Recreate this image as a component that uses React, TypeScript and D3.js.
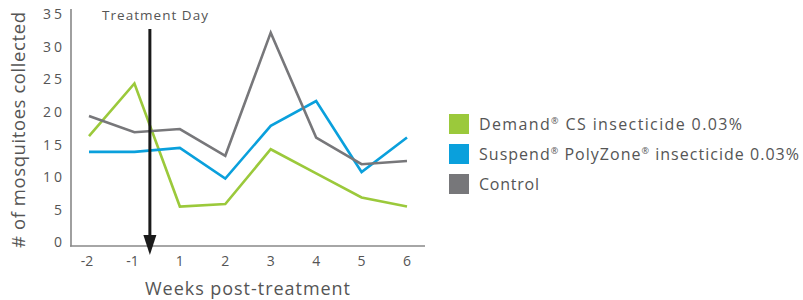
import React from 'react';
import * as d3 from 'd3';

const weeks = ['-2', '-1', '1', '2', '3', '4', '5', '6'];
const demand = [16.7, 24.8, 5.9, 6.3, 14.7, 11, 7.3, 5.9];
const suspend = [14.3, 14.3, 14.9, 10.2, 18.3, 22.1, 11.2, 16.5];
const control = [19.8, 17.3, 17.8, 13.7, 32.6, 16.5, 12.4, 12.9];
const yTicks = [0, 5, 10, 15, 20, 25, 30, 35];

// legend names split so the ® marks can be drawn as superscripts
const seriesList = [
  { parts: ['Demand', '®', ' CS insecticide 0.03%'], values: demand, color: '#9bc93b', len: 263 },
  { parts: ['Suspend', '®', ' PolyZone', '®', ' insecticide 0.03%'], values: suspend, color: '#0aa0dc', len: 320 },
  { parts: ['Control'], values: control, color: '#77777a', len: 60 },
];

const font = '"Open Sans", sans-serif';
const textColor = '#555';

export default function App() {
  const x = d3.scalePoint().domain(weeks).range([89, 407]);
  const y = d3.scaleLinear().domain([0, 35]).range([245, 17]);
  const line = d3.line<number>()
    .x((d, i) => x(weeks[i]) as number)
    .y(d => y(d));

  // treatment day sits between week -1 and week 1
  const tx = (x('-1') as number) + ((x('1') as number) - (x('-1') as number)) * 0.34;

  return (
    <svg width={803} height={300} style={{ position: 'absolute', left: 0, top: 0 }}>
      <rect width={803} height={300} fill="#fff" />
      {/* axes */}
      <line x1={71} x2={71} y1={9} y2={246.5} stroke="#888" strokeWidth={1.6} />
      <line x1={70} x2={425} y1={246} y2={246} stroke="#888" strokeWidth={1.6} />
      {yTicks.map(t => (
        <text key={t} x={62} y={y(t) - 1.5} textAnchor="end" dominantBaseline="middle"
          fontFamily={font} fontSize={14} fill={textColor}
          textLength={t < 10 ? 9 : 19}>{t}</text>
      ))}
      {weeks.map(w => (
        <text key={w} x={(x(w) as number) - (w.startsWith('-') ? 2 : 0)} y={262} textAnchor="middle" dominantBaseline="middle"
          fontFamily={font} fontSize={14} fill={textColor}>{w}</text>
      ))}
      <text x={247.5} y={290} textAnchor="middle" dominantBaseline="middle"
        fontFamily={font} fontSize={18} fill={textColor}
        textLength={205} lengthAdjust="spacing">Weeks post-treatment</text>
      <text transform="translate(20,130) rotate(-90)" textAnchor="middle" dominantBaseline="middle"
        fontFamily={font} fontSize={18.5} fill={textColor}
        textLength={236} lengthAdjust="spacing"># of mosquitoes collected</text>

      {/* series */}
      {seriesList.map(s => (
        <path key={s.parts[0]} d={line(s.values) || ''} fill="none" stroke={s.color}
          strokeWidth={2.6} strokeLinejoin="miter" />
      ))}

      {/* treatment arrow */}
      <line x1={tx} x2={tx} y1={29} y2={240} stroke="#1a1a1a" strokeWidth={3} />
      <path d={`M${tx - 6.5},235 L${tx + 6.5},235 L${tx},255 Z`} fill="#1a1a1a" />
      <text x={102} y={16} textAnchor="start" dominantBaseline="middle"
        fontFamily={font} fontSize={13.5} fill={textColor}
        textLength={106} lengthAdjust="spacing">Treatment Day</text>

      {/* legend */}
      {seriesList.map((s, i) => (
        <g key={s.parts[0]} transform={`translate(449,${114 + i * 30})`}>
          <rect width={20} height={20} fill={s.color} />
          <text x={30} y={15.5} fontFamily={font} fontSize={16} fill={textColor}
            textLength={s.len} lengthAdjust="spacing">
            {s.parts.map((p, j) => p === '®'
              ? <tspan key={j} fontSize={9} dy={-6}>®</tspan>
              : <tspan key={j} dy={j > 0 ? 6 : 0}>{p}</tspan>)}
          </text>
        </g>
      ))}
    </svg>
  );
}
